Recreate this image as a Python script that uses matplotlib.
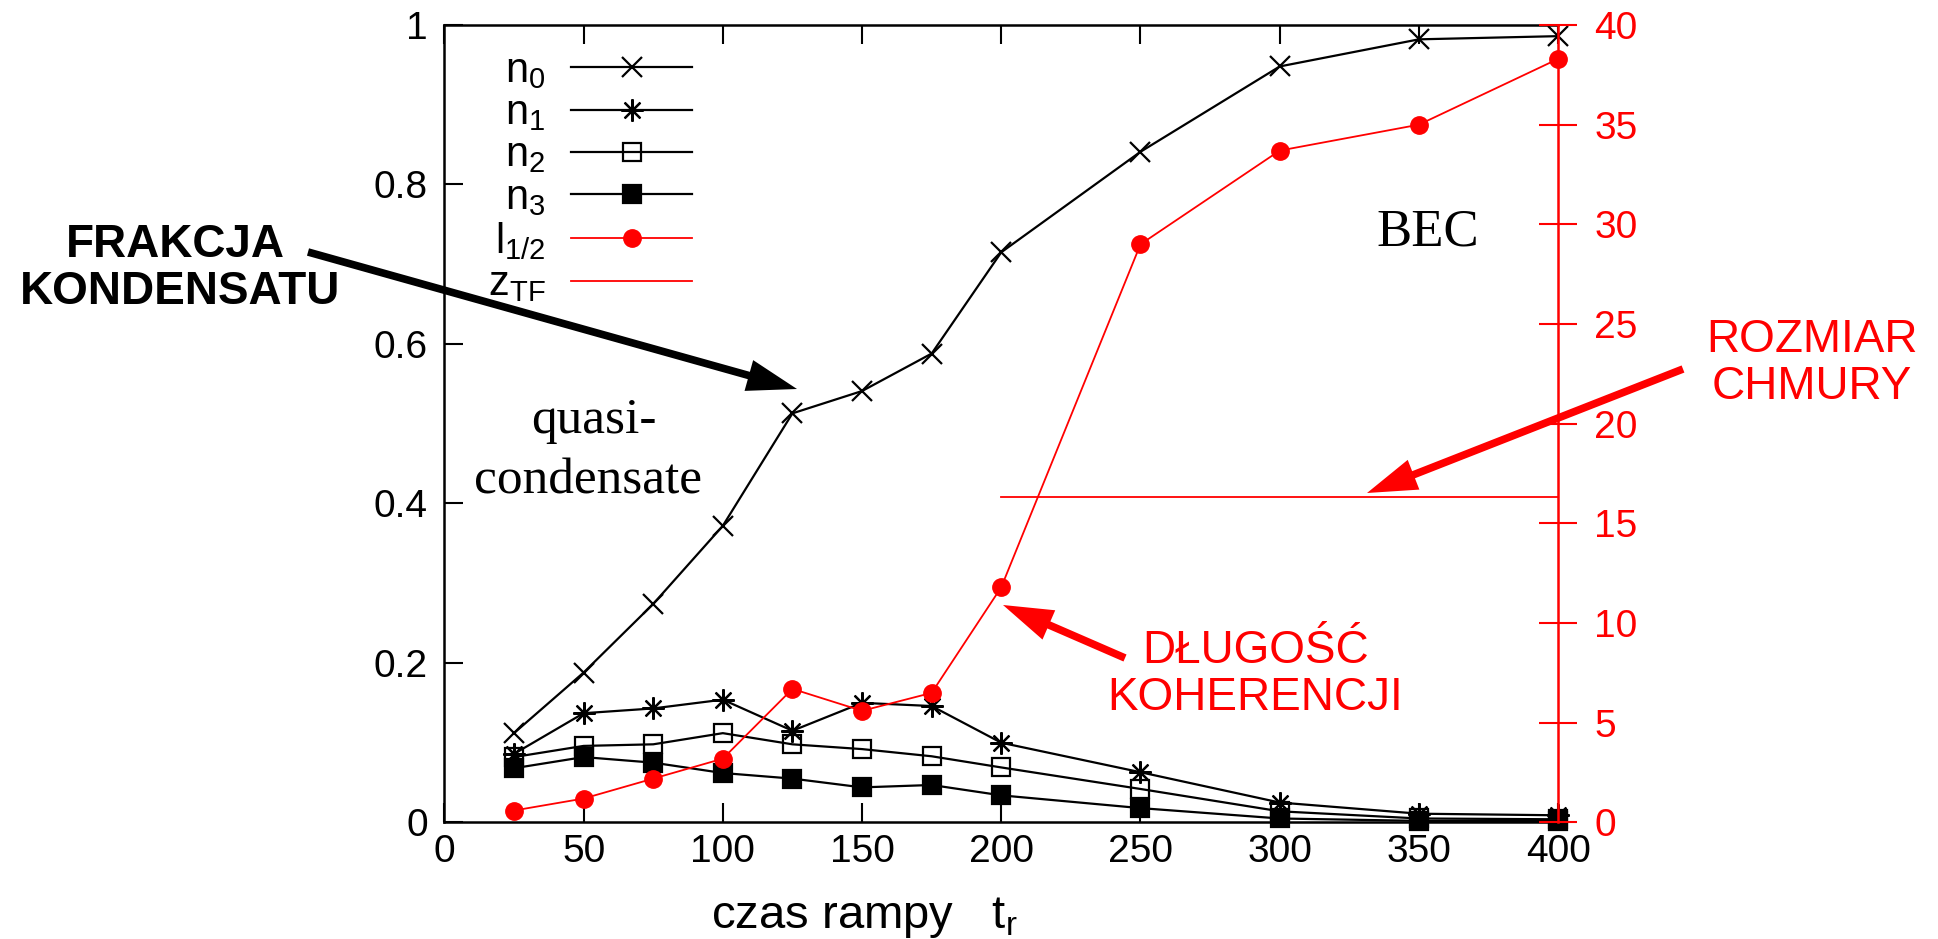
import matplotlib
matplotlib.use('Agg')
import matplotlib.pyplot as plt
from matplotlib.ticker import FormatStrFormatter

plt.rcParams['font.family'] = ['Liberation Sans', 'DejaVu Sans']

# ramp time t_r
tr = [25, 50, 75, 100, 125, 150, 175, 200, 250, 300, 350, 400]

# occupation fractions of the lowest modes
n0 = [0.112, 0.188, 0.274, 0.372, 0.513, 0.541, 0.588, 0.715, 0.841, 0.948, 0.982, 0.986]
n1 = [0.086, 0.137, 0.143, 0.154, 0.115, 0.150, 0.146, 0.100, 0.063, 0.025, 0.011, 0.009]
n2 = [0.082, 0.096, 0.098, 0.112, 0.098, 0.092, 0.083, 0.069, 0.042, 0.014, 0.005, 0.004]
n3 = [0.068, 0.082, 0.075, 0.062, 0.055, 0.044, 0.047, 0.034, 0.018, 0.005, 0.002, 0.002]

# coherence length (right axis)
l_half = [0.6, 1.2, 2.2, 3.2, 6.7, 5.6, 6.5, 11.8, 29.0, 33.7, 35.0, 38.3]

# Thomas-Fermi cloud size (right axis)
ztf_x = [200, 400]
ztf = [16.3, 16.3]

W, H = 1938, 939


def fx(x):
    return x / W


def fy(y):
    return (H - y) / H


fig = plt.figure(figsize=(W / 100, H / 100), dpi=100)
ax = fig.add_axes([0.2293, 0.1241, 0.5747, 0.8493])
ax2 = ax.twinx()

black = dict(color='black', lw=1.6, mew=1.6, clip_on=False)
h0, = ax.plot(tr, n0, marker='x', ms=14, **black)
h1, = ax.plot(tr, n1, marker=(8, 2, 0), ms=16, **black)
h2, = ax.plot(tr, n2, marker='s', ms=13, mfc='none', **black)
h3, = ax.plot(tr, n3, marker='s', ms=13, mfc='black', **black)

h4, = ax2.plot(tr, l_half, color='red', lw=1.3, marker='o', ms=12.5, clip_on=False)
h5, = ax2.plot(ztf_x, ztf, color='red', lw=1.3)

ax.set_xlim(0, 400)
ax.set_ylim(0, 1)
ax2.set_ylim(0, 40)
ax.set_xticks(range(0, 401, 50))
ax.set_yticks([0, 0.2, 0.4, 0.6, 0.8, 1.0])
ax.yaxis.set_major_formatter(FormatStrFormatter('%g'))
ax2.set_yticks(range(0, 41, 5))

ax.tick_params(axis='both', direction='in', length=14, width=1.5, labelsize=28, top=True, right=False)
ax.tick_params(axis='x', pad=8)
ax.tick_params(axis='y', pad=12)
ax2.tick_params(axis='y', direction='inout', length=28, width=1.5, colors='red', labelsize=28, pad=12)

for s in ax.spines.values():
    s.set_linewidth(1.8)
ax.spines['right'].set_visible(False)
for side in ['left', 'top', 'bottom']:
    ax2.spines[side].set_visible(False)
ax2.spines['right'].set_color('red')
ax2.spines['right'].set_linewidth(1.8)

labels = [r'$\mathregular{n_0}$', r'$\mathregular{n_1}$', r'$\mathregular{n_2}$',
          r'$\mathregular{n_3}$', r'$\mathregular{l_{1/2}}$', r'$\mathregular{z_{TF}}$']
ax2.legend([h0, h1, h2, h3, h4, h5], labels, loc='upper right',
           bbox_to_anchor=(fx(692), fy(51)), bbox_transform=fig.transFigure,
           markerfirst=False, frameon=False, fontsize=30, handlelength=2.9,
           handleheight=0.7, handletextpad=0.62, labelspacing=0.055, borderpad=0,
           borderaxespad=0)

fig.text(fx(711), fy(928), r'czas rampy   t$_\mathregular{r}$', fontsize=34, va='baseline')

# region labels inside the plot
serif = ['Liberation Serif', 'DejaVu Serif']
fig.text(fx(594), fy(433), 'quasi-', family=serif, fontsize=37, ha='center', va='baseline')
fig.text(fx(588), fy(493), 'condensate', family=serif, fontsize=37, ha='center', va='baseline')
fig.text(fx(1428), fy(245), 'BEC', family=serif, fontsize=38, ha='center', va='baseline')

# callouts
fig.text(fx(175), fy(257), 'FRAKCJA', fontsize=33, weight='bold', ha='center', va='baseline')
fig.text(fx(180), fy(304), 'KONDENSATU', fontsize=33, weight='bold', ha='center', va='baseline')
fig.text(fx(1812), fy(352), 'ROZMIAR', fontsize=33, color='red', ha='center', va='baseline')
fig.text(fx(1812), fy(399), 'CHMURY', fontsize=33, color='red', ha='center', va='baseline')
fig.text(fx(1256), fy(663), 'DŁUGOŚĆ', fontsize=33, color='red', ha='center', va='baseline')
fig.text(fx(1255), fy(710), 'KOHERENCJI', fontsize=33, color='red', ha='center', va='baseline')

arrows = [
    ((308, 252), (797, 389), 'black'),
    ((1683, 369), (1367, 493), 'red'),
    ((1125, 658), (1003, 605), 'red'),
]
for (x0, y0), (x1, y1), c in arrows:
    ax.annotate('', xy=(x1, H - y1), xycoords='figure pixels',
                xytext=(x0, H - y0), textcoords='figure pixels',
                annotation_clip=False,
                arrowprops=dict(arrowstyle='simple,head_length=3.6,head_width=2.3,tail_width=0.55',
                                mutation_scale=10, color=c, shrinkA=0, shrinkB=0, lw=0))

fig.savefig('out.png', dpi=100)
